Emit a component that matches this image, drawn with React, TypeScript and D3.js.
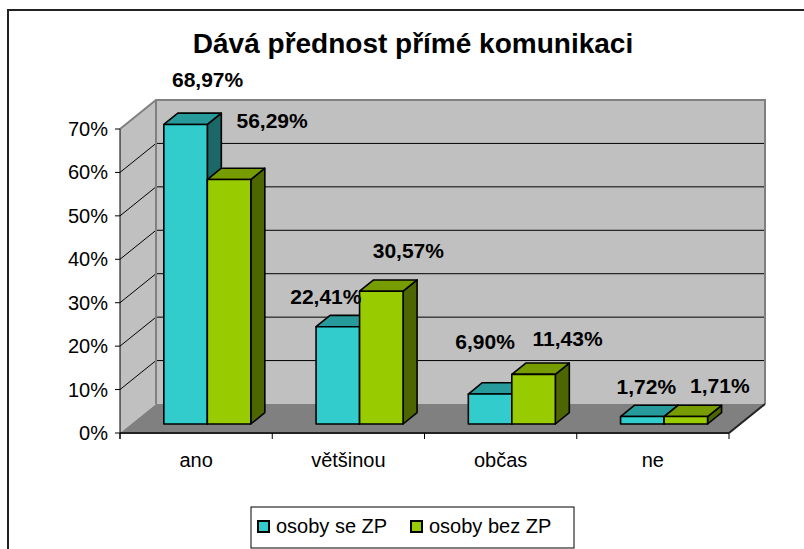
import React from "react";
import * as d3 from "d3";

const TITLE = "Dává přednost přímé komunikaci";
const CATEGORIES = ["ano", "většinou", "občas", "ne"];
const SERIES_NAMES = ["osoby se ZP", "osoby bez ZP"];
const SE_ZP = [0.6897, 0.2241, 0.069, 0.0172];
const BEZ_ZP = [0.5629, 0.3057, 0.1143, 0.0171];
const Y_TICKS = [0, 0.1, 0.2, 0.3, 0.4, 0.5, 0.6, 0.7];

// label nudges (layout only): [dx, dy] relative to bar front-top centre
const LABEL_NUDGE = [
  [[22, -37], [-12, -23], [-5, -45], [4, -23]],
  [[43, -52], [27, -33], [34, -28], [34, -24]],
];

const W = 804;
const H = 549;
const FONT = "'Liberation Sans', Arial, sans-serif";

const COLORS = [
  { front: "#33CCCC", top: "#279B9B", side: "#1C6868" },
  { front: "#99CC00", top: "#769C00", side: "#4D6600" },
];

export default function App() {
  const x0 = 120, x1 = 729, yBottom = 433, yTop = 129;
  const DX = 36, DY = 29; // wall depth
  const SX = 11.2, SY = 9; // bar plane offset
  const BDX = 14, BDY = 11.3; // bar depth

  const y = d3.scaleLinear().domain([0, 0.7]).range([yBottom, yTop]);
  const band = d3.scaleBand<string>().domain(CATEGORIES).range([x0, x1]).padding(0);
  const bw = band.bandwidth();
  const w = bw / 3.5;
  const series = [SE_ZP, BEZ_ZP];
  const fmt = (v: number) => (v * 100).toFixed(2).replace(".", ",") + "%";

  const bars: React.ReactNode[] = [];
  const labels: React.ReactNode[] = [];
  CATEGORIES.forEach((c, ci) => {
    series.forEach((s, si) => {
      const v = s[ci];
      const bx0 = (band(c) as number) + SX + 0.75 * w + si * w;
      const bx1 = bx0 + w;
      const yt = y(v) - SY;
      const yb = y(0) - SY;
      const col = COLORS[si];
      const pts = (arr: number[][]) => arr.map((p) => p.join(",")).join(" ");
      bars.push(
        <g key={`b${ci}-${si}`} stroke="#000" strokeWidth={1.6} strokeLinejoin="round">
          <polygon
            points={pts([[bx1, yt], [bx1 + BDX, yt - BDY], [bx1 + BDX, yb - BDY], [bx1, yb]])}
            fill={col.side}
          />
          <polygon
            points={pts([[bx0, yt], [bx0 + BDX, yt - BDY], [bx1 + BDX, yt - BDY], [bx1, yt]])}
            fill={col.top}
          />
          <rect x={bx0} y={yt} width={w} height={yb - yt} fill={col.front} />
        </g>
      );
      const [ndx, ndy] = LABEL_NUDGE[si][ci];
      labels.push(
        <text
          key={`l${ci}-${si}`}
          x={(bx0 + bx1) / 2 + ndx}
          y={y(v) - SY + ndy}
          textAnchor="middle"
          fontFamily={FONT}
          fontWeight="bold"
          fontSize={21}
          fill="#000"
        >
          {fmt(v)}
        </text>
      );
    });
  });

  const backLeft = x0 + DX, backRight = x1 + DX;

  return (
    <div style={{ position: "fixed", left: 0, top: 0 }}>
      <svg width={W} height={H} style={{ display: "block", background: "#fff" }}>
        <rect x={8} y={10} width={900} height={700} fill="#fff" stroke="#222" strokeWidth={2} />
        <text x={413} y={53} textAnchor="middle" fontFamily={FONT} fontWeight="bold" fontSize={28}>
          {TITLE}
        </text>

        {/* walls */}
        <polygon
          points={`${x0},${y(0)} ${backLeft},${y(0) - DY} ${backLeft},${y(0.7) - DY} ${x0},${y(0.7)}`}
          fill="#C0C0C0"
        />
        <rect x={backLeft} y={y(0.7) - DY} width={backRight - backLeft} height={y(0) - y(0.7)} fill="#C0C0C0" />
        <polygon
          points={`${x0},${y(0)} ${x1},${y(0)} ${backRight},${y(0) - DY} ${backLeft},${y(0) - DY}`}
          fill="#808080"
        />
        {/* gridlines */}
        {Y_TICKS.filter((t) => t > 0 && t < 0.7).map((t) => (
          <g key={`g${t}`} stroke="#000" strokeWidth={1}>
            <line x1={x0} y1={y(t)} x2={backLeft} y2={y(t) - DY} />
            <line x1={backLeft} y1={y(t) - DY} x2={backRight} y2={y(t) - DY} />
          </g>
        ))}
        {/* wall borders */}
        <g stroke="#808080" strokeWidth={2} fill="none">
          <polyline
            points={`${x0},${y(0.7)} ${backLeft},${y(0.7) - DY} ${backRight},${y(0.7) - DY} ${backRight},${y(0) - DY}`}
          />
          <line x1={backLeft} y1={y(0.7) - DY} x2={backLeft} y2={y(0) - DY} />
        </g>
        {/* floor front edges */}
        <g stroke="#222" strokeWidth={2} fill="none">
          <line x1={x0} y1={y(0)} x2={x1} y2={y(0)} />
          <line x1={x1} y1={y(0)} x2={backRight} y2={y(0) - DY} />
        </g>
        {/* y axis */}
        <g stroke="#000" strokeWidth={1}>
          <line x1={x0} y1={y(0.7)} x2={x0} y2={y(0) + 6} />
          {Y_TICKS.map((t) => (
            <line key={`yt${t}`} x1={x0 - 5} y1={y(t)} x2={x0} y2={y(t)} />
          ))}
          {d3.range(CATEGORIES.length + 1).map((i) => (
            <line key={`xt${i}`} x1={x0 + i * bw} y1={y(0)} x2={x0 + i * bw} y2={y(0) + 6} />
          ))}
        </g>
        {Y_TICKS.map((t) => (
          <text
            key={`yl${t}`}
            x={108}
            y={y(t) + 7}
            textAnchor="end"
            fontFamily={FONT}
            fontSize={20}
          >
            {Math.round(t * 100) + "%"}
          </text>
        ))}
        {CATEGORIES.map((c) => (
          <text
            key={`cl${c}`}
            x={(band(c) as number) + bw / 2}
            y={y(0) + 34}
            textAnchor="middle"
            fontFamily={FONT}
            fontSize={20}
          >
            {c}
          </text>
        ))}

        {bars}
        {labels}

        {/* legend */}
        <rect x={251} y={507} width={323} height={41} fill="#fff" stroke="#000" strokeWidth={1} />
        {SERIES_NAMES.map((n, i) => {
          const lx = i === 0 ? 258 : 411;
          return (
            <g key={`lg${i}`}>
              <rect x={lx} y={521} width={11} height={11} fill={COLORS[i].front} stroke="#000" strokeWidth={2} />
              <text x={lx + 18} y={533} fontFamily={FONT} fontSize={20}>
                {n}
              </text>
            </g>
          );
        })}
      </svg>
    </div>
  );
}
